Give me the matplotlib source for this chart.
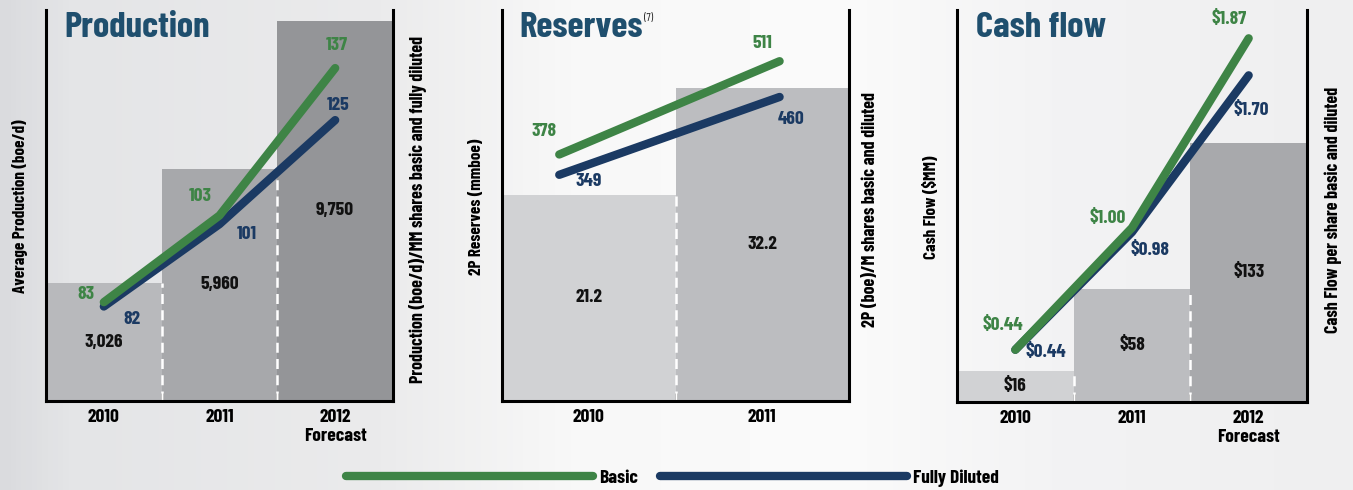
import numpy as np
import matplotlib.pyplot as plt
from matplotlib.lines import Line2D
from matplotlib.colors import LinearSegmentedColormap

plt.rcParams['font.family'] = ['Barlow Condensed', 'Roboto Condensed', 'DejaVu Sans']
plt.rcParams['font.weight'] = 'bold'

# Production
prod_years = ['2010', '2011', '2012\nForecast']
prod_boed = [3026, 5960, 9750]
prod_boed_lbl = ['3,026', '5,960', '9,750']
prod_basic = [83, 103, 137]
prod_diluted = [82, 101, 125]

# Reserves
res_years = ['2010', '2011']
res_mmboe = [21.2, 32.2]
res_mmboe_lbl = ['21.2', '32.2']
res_basic = [378, 511]
res_diluted = [349, 460]

# Cash flow
cf_years = ['2010', '2011', '2012\nForecast']
cf_mm = [16, 58, 133]
cf_mm_lbl = ['$16', '$58', '$133']
cf_basic = [0.44, 1.00, 1.87]
cf_diluted = [0.44, 0.98, 1.70]

GREEN = '#3e8446'
NAVY = '#1b3a63'
TITLE = '#1f4f6e'

W, H = 1353, 490
fig = plt.figure(figsize=(W / 100, H / 100), dpi=100)

# background gradient
bg = fig.add_axes([0, 0, 1, 1], zorder=-10)
cmap = LinearSegmentedColormap.from_list('bg', [
    (0.0, '#dadbde'), (0.05, '#e4e5e7'), (0.28, '#ebebec'),
    (0.42, '#f8f8f8'), (0.62, '#fbfbfb'), (0.78, '#f3f3f4'), (1.0, '#efeff0')])
bg.imshow(np.linspace(0, 1, 256)[None, :], aspect='auto', cmap=cmap, extent=[0, 1, 0, 1])
bg.axis('off')


def px_rect(l, r, t, b):
    return [l / W, (H - b) / H, (r - l) / W, (b - t) / H]


def panel(rect, title, cats, bars, bar_lbls, bar_colors, ylim,
          basic, diluted, ylim2, line_x, offs_b, offs_d, lbl_b, lbl_d,
          ylab_l, ylab_r, xl, xr):
    ax = fig.add_axes(rect)
    ax.set_facecolor('none')
    x = np.arange(len(cats))
    ax.bar(x, bars, width=1.0, color=bar_colors, zorder=1)
    for i in range(len(cats) - 1):
        ax.vlines(i + 0.5, 0, min(bars[i], bars[i + 1]), colors='white',
                  linestyles=(0, (4, 2.5)), lw=1.8, zorder=2)
    for xi, v, s in zip(x, bars, bar_lbls):
        ax.text(xi, v / 2, s, ha='center', va='center', fontsize=14, color='#111111', zorder=3)
    ax.set_xlim(-0.5, len(cats) - 0.5)
    ax.set_ylim(*ylim)
    ax.spines['top'].set_visible(False)
    for s in ['left', 'right', 'bottom']:
        ax.spines[s].set_linewidth(2.2)
    ax.set_yticks([])
    ax.set_xticks(x)
    ax.set_xticklabels(cats, fontsize=14, linespacing=1.1)
    ax.tick_params(axis='x', which='major', length=0, pad=6)
    ax.set_xticks(np.arange(1, len(cats)) - 0.5, minor=True)
    ax.tick_params(axis='x', which='minor', length=6, width=2, direction='in')

    t = ax.text(xl, 0.955, title, transform=ax.transAxes, fontsize=26.5,
                color=TITLE, va='center', ha='left')

    ax.text(-0.074, 0.497, ylab_l, transform=ax.transAxes, rotation=90,
            ha='center', va='center', fontsize=12.3)
    ax.text(xr, 0.49, ylab_r, transform=ax.transAxes, rotation=90,
            ha='center', va='center', fontsize=13)

    ax2 = ax.twinx()
    ax2.set_ylim(*ylim2)
    ax2.set_yticks([])
    for s in ax2.spines.values():
        s.set_visible(False)
    ax2.plot(line_x, diluted, color=NAVY, lw=6, solid_capstyle='round')
    ax2.plot(line_x, basic, color=GREEN, lw=6, solid_capstyle='round')
    for xi, v, o, s in zip(line_x, basic, offs_b, lbl_b):
        ax2.annotate(s, (xi, v), xytext=o, textcoords='offset pixels',
                     ha='center', va='center', fontsize=14, color=GREEN)
    for xi, v, o, s in zip(line_x, diluted, offs_d, lbl_d):
        ax2.annotate(s, (xi, v), xytext=o, textcoords='offset pixels',
                     ha='center', va='center', fontsize=14, color=NAVY)
    return ax, t


panel(px_rect(46, 393, 10, 401), 'Production', prod_years, prod_boed, prod_boed_lbl,
      ['#b8b9bc', '#a7a8ab', '#949598'], (0, 10030),
      prod_basic, prod_diluted, (60.2, 150.4), [0, 1, 2],
      [(-18, 8), (-19, 19), (2, 23)], [(28, -13), (27, -10), (3, 15)],
      [str(v) for v in prod_basic], [str(v) for v in prod_diluted],
      'Average Production (boe/d)',
      'Production (boe/d)/MM shares basic and fully diluted', 0.052, 1.072)

ax_r, t_r = panel(px_rect(502, 849, 10, 401), 'Reserves', res_years, res_mmboe, res_mmboe_lbl,
                  ['#d1d2d4', '#bcbdc0'], (0, 40.2),
                  res_basic, res_diluted, (26.5, 584), [-0.17, 1.1],
                  [(-15, 23), (-17, 18)], [(29, -7), (12, -23)],
                  [str(v) for v in res_basic], [str(v) for v in res_diluted],
                  '2P Reserves (mmboe)',
                  '2P (boe)/M shares basic and diluted', 0.049, 1.063)
ax_r.annotate('(7)', xy=(1, 1), xycoords=t_r, xytext=(1, -1), textcoords='offset points',
              ha='left', va='top', fontsize=8, fontweight='normal', color='#222222')

panel(px_rect(957, 1307, 10, 402), 'Cash flow', cf_years, cf_mm, cf_mm_lbl,
      ['#d1d2d4', '#bcbdc0', '#a8a9ac'], (0, 201),
      cf_basic, cf_diluted, (0.20, 2.00), [0, 1, 2],
      [(-13, 24), (-24, 9), (-20, 19)], [(30, -3), (18, -18), (3, -35)],
      ['$%.2f' % v for v in cf_basic], ['$%.2f' % v for v in cf_diluted],
      'Cash Flow ($MM)',
      'Cash Flow per share basic and diluted', 0.054, 1.074)

handles = [Line2D([], [], color=GREEN, lw=6, solid_capstyle='round'),
           Line2D([], [], color=NAVY, lw=6, solid_capstyle='round')]
fig.legend(handles, ['Basic', 'Fully Diluted'], loc='center', bbox_to_anchor=(0.497, 0.025),
           ncol=2, frameon=False, fontsize=14, handlelength=12.7, handletextpad=0.35,
           columnspacing=1.1)

fig.savefig('out.png', dpi=100)
